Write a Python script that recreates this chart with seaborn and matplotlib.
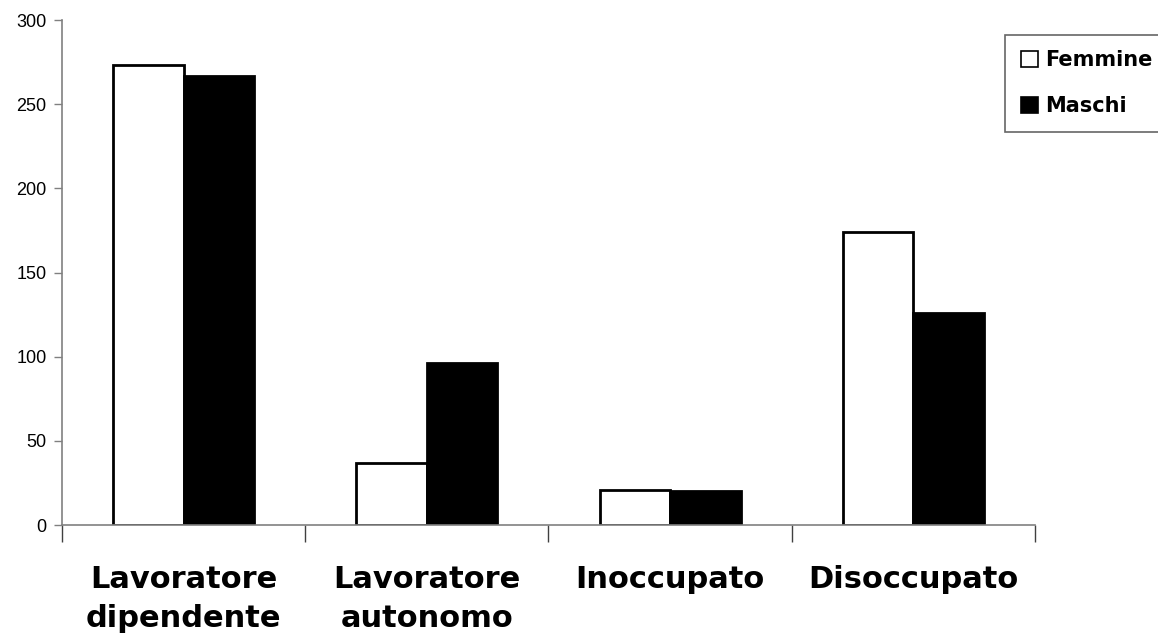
import matplotlib
matplotlib.use("Agg")
import matplotlib.pyplot as plt
import matplotlib.patches as mpatches
import pandas as pd
import seaborn as sns

categories = ["Lavoratore\ndipendente", "Lavoratore\nautonomo", "Inoccupato", "Disoccupato"]
femmine = [273, 37, 21, 174]
maschi = [267, 96, 20, 126]
series_names = ["Femmine", "Maschi"]
y_ticks = [0, 50, 100, 150, 200, 250, 300]

df = pd.DataFrame({
    "categoria": categories * 2,
    "valore": femmine + maschi,
    "sesso": [series_names[0]] * 4 + [series_names[1]] * 4,
})

sns.set_style("white")
plt.rcParams['font.family'] = ['DejaVu Sans']
plt.rcParams['text.color'] = 'black'
plt.rcParams['xtick.color'] = 'black'
plt.rcParams['ytick.color'] = 'black'

fig = plt.figure(figsize=(11.58, 6.42), dpi=100)
ax = fig.add_axes([0.0535, 0.1822, 0.8403, 0.7866])

sns.barplot(data=df, x="categoria", y="valore", hue="sesso",
            palette={"Femmine": "white", "Maschi": "black"},
            edgecolor="black", linewidth=2, width=0.58, ax=ax, legend=False)

ax.set_xlim(-0.5, 3.5)
ax.set_ylim(0, 300)
ax.set_yticks(y_ticks, labels=[str(v) for v in y_ticks],
              fontfamily='Liberation Sans', fontsize=13)
ax.tick_params(axis='y', direction='out', length=6, width=1, color='#808080',
               labelcolor='black', pad=5, left=True)

ax.set_xticks(range(4))
ax.set_xticklabels(categories, fontsize=22, fontweight='bold', linespacing=1.4)
ax.tick_params(axis='x', which='major', length=0, pad=29, labelcolor='black')
ax.set_xticks([-0.5, 0.5, 1.5, 2.5, 3.5], minor=True)
ax.tick_params(axis='x', which='minor', direction='out', length=12, width=1,
               color='#404040', bottom=True)

for side in ['top', 'right']:
    ax.spines[side].set_visible(False)
for side in ['left', 'bottom']:
    ax.spines[side].set_color('#808080')
    ax.spines[side].set_linewidth(1.2)

ax.set_xlabel("")
ax.set_ylabel("")

handles = [mpatches.Patch(facecolor="white", edgecolor="black", linewidth=1.2, label="Femmine"),
           mpatches.Patch(facecolor="black", edgecolor="black", linewidth=1.2, label="Maschi")]
leg = fig.legend(handles=handles, loc='upper left', bbox_to_anchor=(0.868, 0.946),
                 frameon=True, fancybox=False, edgecolor='#404040',
                 handlelength=0.85, handleheight=0.85, handletextpad=0.3,
                 labelspacing=1.25, borderpad=0.75, borderaxespad=0,
                 prop={'size': 15, 'weight': 'bold'})
leg.get_frame().set_linewidth(1.2)

fig.savefig("out.png", dpi=100)
